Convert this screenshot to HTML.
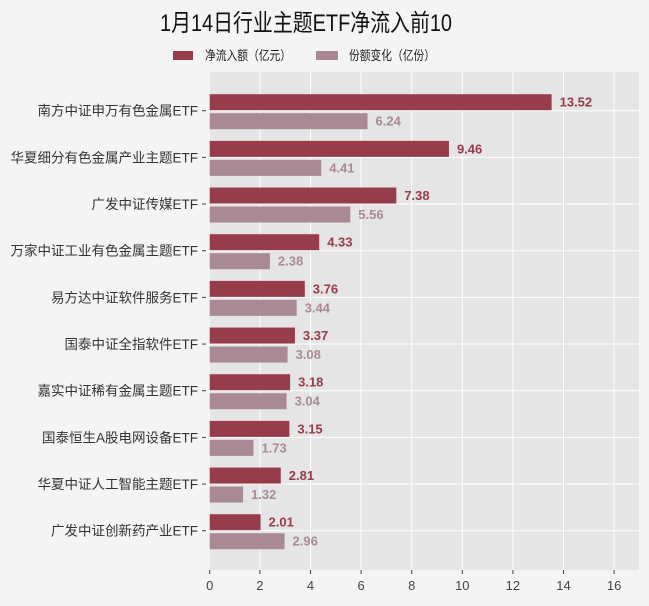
<!DOCTYPE html>
<html><head><meta charset="utf-8"><style>
html,body{margin:0;padding:0;background:#f4f4f4;}
svg{display:block;font-family:"Liberation Sans","Noto Sans CJK SC",sans-serif;}
</style></head><body>
<svg width="649" height="606" viewBox="0 0 649 606" xmlns="http://www.w3.org/2000/svg">
<rect width="649" height="606" fill="#f4f4f4"/>
<text x="306" y="31" font-size="24" text-anchor="middle" fill="#111" textLength="292" lengthAdjust="spacingAndGlyphs">1月14日行业主题ETF净流入前10</text>
<rect x="173" y="51" width="20" height="9" fill="#963c4b"/>
<text x="205" y="60" font-size="13" fill="#222" textLength="86" lengthAdjust="spacingAndGlyphs">净流入额（亿元）</text>
<rect x="316" y="51" width="22" height="9" fill="#a98a94"/>
<text x="349" y="60" font-size="13" fill="#222" textLength="86" lengthAdjust="spacingAndGlyphs">份额变化（亿份）</text>
<rect x="210" y="72" width="429" height="498" fill="#e5e5e5"/>
<g stroke="#ffffff" stroke-width="1">
<line x1="259.9" y1="72" x2="259.9" y2="570"/><line x1="310.5" y1="72" x2="310.5" y2="570"/>
<line x1="361.1" y1="72" x2="361.1" y2="570"/><line x1="411.7" y1="72" x2="411.7" y2="570"/>
<line x1="462.3" y1="72" x2="462.3" y2="570"/><line x1="512.9" y1="72" x2="512.9" y2="570"/>
<line x1="563.5" y1="72" x2="563.5" y2="570"/><line x1="614.1" y1="72" x2="614.1" y2="570"/>
</g>
<g id="rows" font-size="13.5"></g>
<g font-size="13" fill="#444" text-anchor="middle">
<text x="209.7" y="590">0</text><text x="259.9" y="590">2</text><text x="310.5" y="590">4</text>
<text x="361.1" y="590">6</text><text x="411.7" y="590">8</text><text x="462.3" y="590">10</text>
<text x="512.9" y="590">12</text><text x="563.5" y="590">14</text><text x="614.1" y="590">16</text>
</g>
<g stroke="#444"><line x1="209.7" y1="570" x2="209.7" y2="574"/><line x1="259.9" y1="570" x2="259.9" y2="574"/><line x1="310.5" y1="570" x2="310.5" y2="574"/><line x1="361.1" y1="570" x2="361.1" y2="574"/><line x1="411.7" y1="570" x2="411.7" y2="574"/><line x1="462.3" y1="570" x2="462.3" y2="574"/><line x1="512.9" y1="570" x2="512.9" y2="574"/><line x1="563.5" y1="570" x2="563.5" y2="574"/><line x1="614.1" y1="570" x2="614.1" y2="574"/></g>
</svg>
<script>
var d=[["南方中证申万有色金属ETF",13.52,6.24],["华夏细分有色金属产业主题ETF",9.46,4.41],["广发中证传媒ETF",7.38,5.56],["万家中证工业有色金属主题ETF",4.33,2.38],["易方达中证软件服务ETF",3.76,3.44],["国泰中证全指软件ETF",3.37,3.08],["嘉实中证稀有金属主题ETF",3.18,3.04],["国泰恒生A股电网设备ETF",3.15,1.73],["华夏中证人工智能主题ETF",2.81,1.32],["广发中证创新药产业ETF",2.01,2.96]];
var g=document.getElementById("rows"),s="",x0=209.7,k=25.29;
d.forEach(function(r,i){var y=110.7+i*46.67;
s+='<line x1="210" y1="'+y+'" x2="639" y2="'+y+'" stroke="#fff"/>';
s+='<rect x="'+x0+'" y="'+(y-16.5)+'" width="'+(r[1]*k)+'" height="16" fill="#963c4b"/>';
s+='<rect x="'+x0+'" y="'+(y+2.5)+'" width="'+(r[2]*k)+'" height="16" fill="#a98a94"/>';
s+='<text x="'+(x0+r[1]*k+8)+'" y="'+(y-4)+'" font-weight="bold" font-size="13" fill="#963c4b">'+r[1].toFixed(2)+'</text>';
s+='<text x="'+(x0+r[2]*k+8)+'" y="'+(y+15)+'" font-weight="bold" font-size="13" fill="#a98a94">'+r[2].toFixed(2)+'</text>';
s+='<line x1="202" y1="'+y+'" x2="206" y2="'+y+'" stroke="#444"/>';
s+='<text x="198" y="'+(y+5)+'" text-anchor="end" fill="#333">'+r[0]+'</text>';});
g.innerHTML=s;
</script>
</body></html>
